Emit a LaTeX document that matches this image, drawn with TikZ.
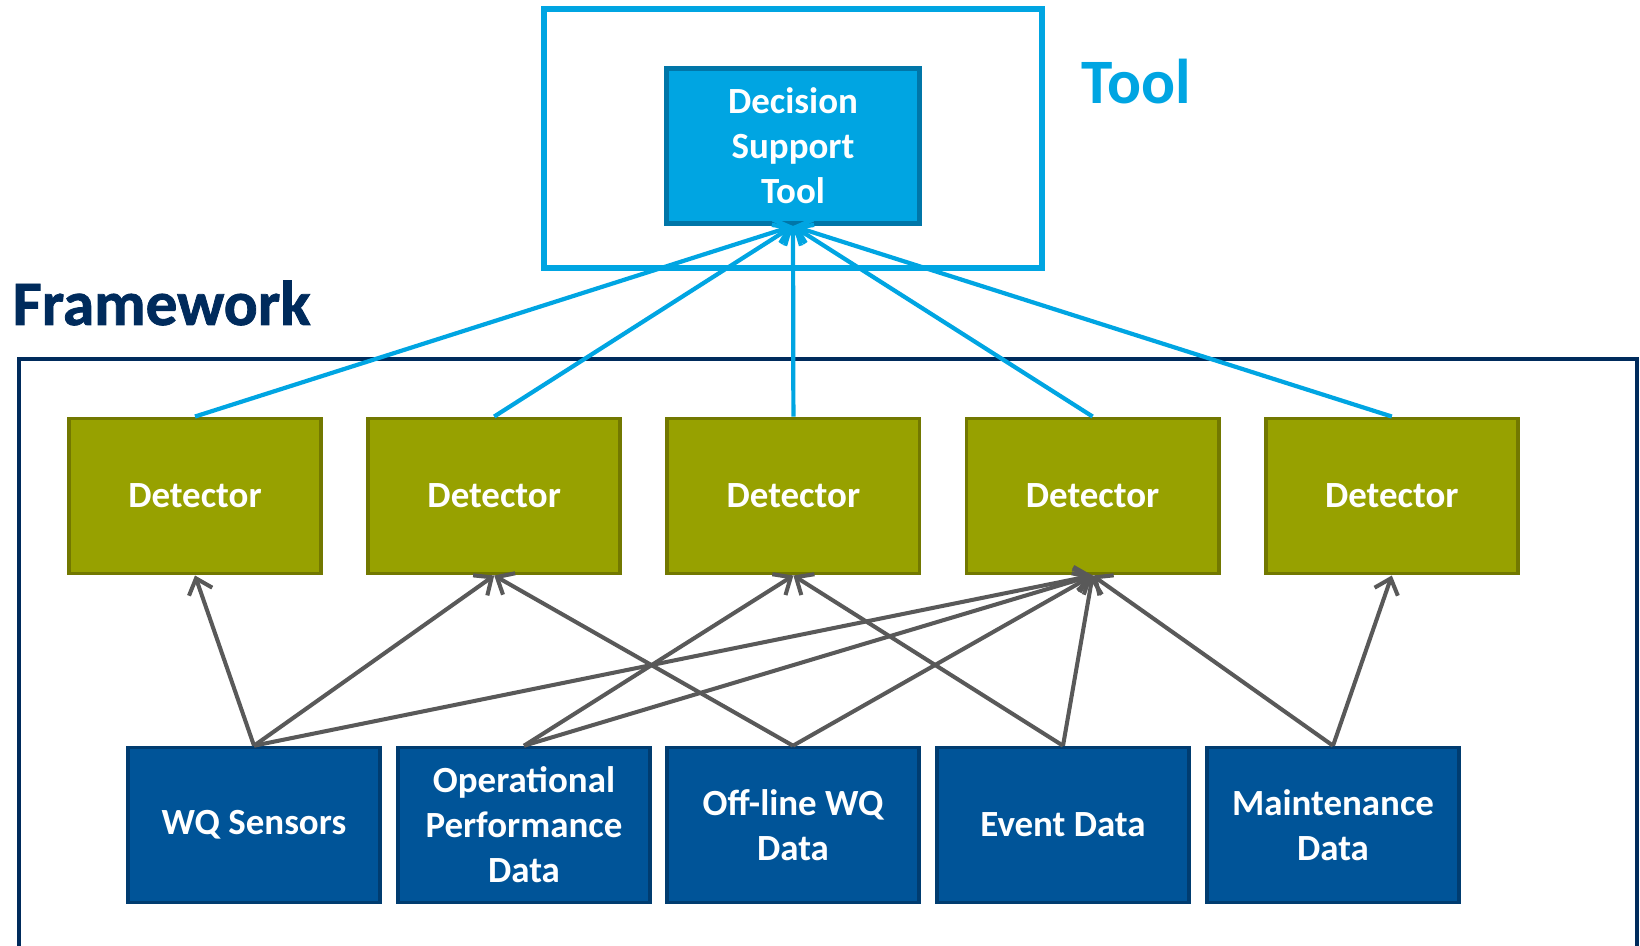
\documentclass[tikz,border=0pt]{standalone}
\usepackage{fontspec}
\setmainfont{Carlito}
\newfontfamily\heavyfont{Carlito Bold}[FakeBold=1.2]
\usetikzlibrary{arrows.meta}
\usepackage{xcolor}
\definecolor{toolcyan}{RGB}{0,165,226}
\definecolor{tooledge}{RGB}{0,118,168}
\definecolor{detolive}{RGB}{151,161,0}
\definecolor{detedge}{RGB}{114,120,0}
\definecolor{datablue}{RGB}{0,84,152}
\definecolor{dataedge}{RGB}{0,60,112}
\definecolor{framenavy}{RGB}{0,43,92}
\definecolor{linkgray}{RGB}{89,89,89}

\begin{document}
\begin{tikzpicture}[x=0.01cm,y=-0.01cm]
    \tikzstyle{box}=[rectangle,minimum width=2.52cm,minimum height=1.55cm,inner sep=0pt,
        text=white,align=center,font=\fontsize{10.5}{12.8}\selectfont\bfseries]
    \tikzstyle{dst box}=[box, fill=toolcyan, draw=tooledge, line width=1.4pt];
    \tikzstyle{detector}=[box, fill=detolive, draw=detedge, line width=1.1pt];
    \tikzstyle{data box}=[box, fill=datablue, draw=dataedge, line width=1pt];
    \tikzstyle{feed}=[draw=linkgray, line width=1.15pt, -{Straight Barb[length=4pt,width=7pt]}]
    \tikzstyle{report}=[draw=toolcyan, line width=1.2pt, -{Straight Barb[length=4pt,width=7pt]}]
    \tikzstyle{title}=[anchor=west,inner sep=0pt,font=\fontsize{18}{22}\selectfont\bfseries]

    \useasboundingbox (0,0) rectangle (1640,945);
    \clip (0,0) rectangle (1640,945);

    % outer frames
    \draw[toolcyan, line width=1.5pt] (544,9) rectangle (1042,268);
    \draw[framenavy, line width=1.1pt] (19,960) -- (19,359) -- (1637,359) -- (1637,960);

    \node[title, text=toolcyan] (tool) at (1081,82) {Tool};
    \node[title, text=framenavy, font=\fontsize{18}{22}\selectfont\heavyfont] (fw) at (12,303) {Framework};

    \node[dst box] (DST) at (793,146) {Decision\\Support\\Tool};

    % detectors
    \foreach \x in {1,2,3,4,5}{
        \pgfmathsetmacro\px{195+(\x-1)*299.2}
        \node[detector] (Det-\x) at (\px,496) {Detector};
        \draw[report] (Det-\x.north) -- (DST.south);
        }

    % data sources
    \node[data box] (Dat-1) at (254,825) {WQ Sensors};
    \node[data box] (Dat-2) at (524,825) {Operational\\Performance\\Data};
    \node[data box] (Dat-3) at (793,825) {Off-line WQ\\Data};
    \node[data box] (Dat-4) at (1063,825) {Event Data};
    \node[data box] (Dat-5) at (1333,825) {Maintenance\\Data};

    \foreach \s/\d in {1/1,1/2,1/4,2/3,2/4,3/2,3/4,4/3,4/4,5/4,5/5}{
        \draw[feed] (Dat-\s.north) -- (Det-\d.south);
        }

\end{tikzpicture}
\end{document}
